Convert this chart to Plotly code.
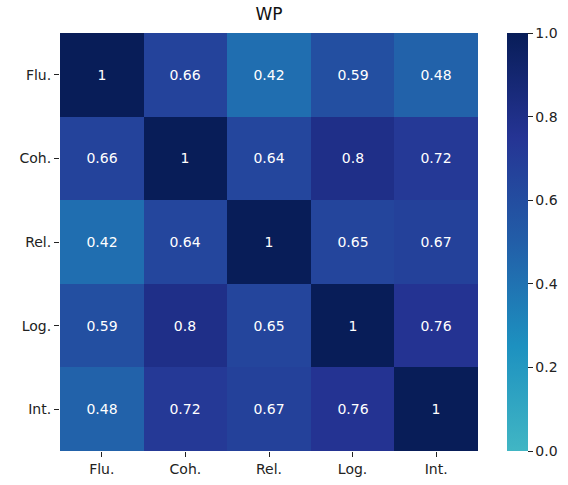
import plotly.graph_objects as go

labels = ["Flu.", "Coh.", "Rel.", "Log.", "Int."]
values = [
    [1.00, 0.66, 0.42, 0.59, 0.48],
    [0.66, 1.00, 0.64, 0.80, 0.72],
    [0.42, 0.64, 1.00, 0.65, 0.67],
    [0.59, 0.80, 0.65, 1.00, 0.76],
    [0.48, 0.72, 0.67, 0.76, 1.00],
]
title = "WP"

colorscale = [
    [0.0, "#41b6c4"],
    [0.25, "#1d91c0"],
    [0.5, "#225ea8"],
    [0.75, "#253494"],
    [1.0, "#081d58"],
]

text = [[f"{v:.2g}" for v in row] for row in values]

W, H = 568, 485
ml, mr, mt, mb = 60, 90, 33, 34
pw = W - ml - mr

fig = go.Figure(go.Heatmap(
    z=values, x=labels, y=labels,
    zmin=0, zmax=1,
    colorscale=colorscale,
    text=text, texttemplate="%{text}",
    textfont=dict(family="DejaVu Sans", size=14, color="white"),
    xgap=0, ygap=0,
    colorbar=dict(
        x=(507 - ml) / pw, xanchor="left", xref="paper", xpad=0, ypad=0,
        y=0, yanchor="bottom", len=1, lenmode="fraction",
        thickness=21, outlinewidth=0,
        tickvals=[0, 0.2, 0.4, 0.6, 0.8, 1.0],
        ticktext=["0.0", "0.2", "0.4", "0.6", "0.8", "1.0"],
        ticks="outside", ticklen=5, tickwidth=1, tickcolor="#222",
        tickfont=dict(family="DejaVu Sans", size=14, color="#222"),
    ),
))

fig.update_layout(
    width=W, height=H,
    margin=dict(l=ml, r=mr, t=mt, b=mb, autoexpand=False),
    paper_bgcolor="white", plot_bgcolor="white",
    title=dict(text=title, x=(ml + pw / 2) / W, xanchor="center",
               y=1 - 14 / H, yanchor="middle",
               font=dict(family="DejaVu Sans", size=17, color="#111")),
    xaxis=dict(showgrid=False, zeroline=False, ticks="outside", ticklen=5,
               tickcolor="#222", tickfont=dict(family="DejaVu Sans", size=14, color="#222")),
    yaxis=dict(showgrid=False, zeroline=False, autorange="reversed", ticks="outside",
               ticklen=5, tickcolor="#222",
               tickfont=dict(family="DejaVu Sans", size=14, color="#222")),
)

fig.write_html("out.html",
               config={"displayModeBar": False},
               post_script="document.body.style.margin='0';document.body.style.overflow='hidden';")
